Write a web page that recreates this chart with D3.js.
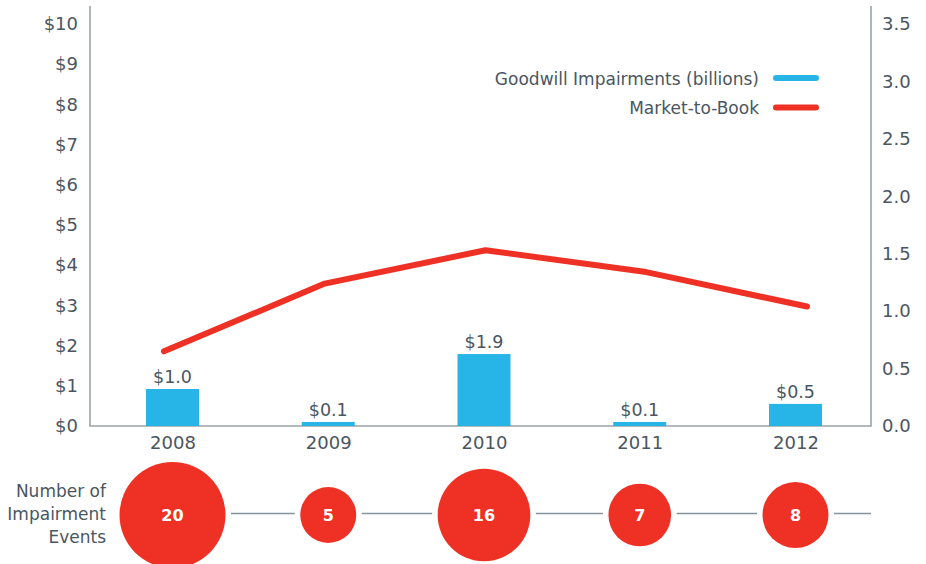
<!DOCTYPE html>
<html>
<head>
<meta charset="utf-8">
<script src="https://cdn.jsdelivr.net/npm/d3@7"></script>
<style>
  html, body { margin: 0; padding: 0; background: #fff; }
  svg { display: block; }
  text { font-family: "DejaVu Sans", sans-serif; fill: #4a5661; }
</style>
</head>
<body>
<svg id="chart" width="926" height="564"></svg>
<script>
// ---- data ----
const years = ["2008", "2009", "2010", "2011", "2012"];
const impairments = [0.92, 0.1, 1.79, 0.1, 0.55];            // $ billions (bar heights)
const impairmentLabels = ["$1.0", "$0.1", "$1.9", "$0.1", "$0.5"];
const marketToBook = [0.65, 1.24, 1.53, 1.34, 1.04];
const events = [20, 5, 16, 7, 8];
const leftTicks = [0, 1, 2, 3, 4, 5, 6, 7, 8, 9, 10];
const rightTicks = [0, 0.5, 1.0, 1.5, 2.0, 2.5, 3.0, 3.5];
const legendItems = ["Goodwill Impairments (billions)", "Market-to-Book"];
const rowLabel = ["Number of", "Impairment", "Events"];

// ---- styles ----
const BLUE = "#27b5e8", RED = "#ee3124", AXIS = "#9aa2a7", LINK = "#87929a";

const svg = d3.select("#chart");
const axL = 90, axR = 871, baseY = 426, topY = 24;

const yL = d3.scaleLinear().domain([0, 10]).range([baseY, topY]);
const yR = d3.scaleLinear().domain([0, 3.5]).range([baseY, topY]);
const xBar = d3.scalePoint().domain(years).range([172.5, 795.5]);
const xLine = d3.scalePoint().domain(years).range([164, 807]);
const rScale = d3.scaleLinear().domain(d3.extent(events)).range([28, 53]);

// axes lines
svg.append("path")
  .attr("d", `M${axL},${topY - 18}V${yL(0)}H${axR}V${topY - 18}`)
  .attr("fill", "none").attr("stroke", AXIS).attr("stroke-width", 1.6);

// left axis
const gL = svg.append("g").attr("transform", `translate(${axL},0)`)
  .call(d3.axisLeft(yL).tickValues(leftTicks).tickSize(0).tickPadding(12).tickFormat(d => "$" + d));
gL.select(".domain").remove();
gL.selectAll("text").attr("font-size", 18).attr("font-family", "DejaVu Sans").attr("fill", "#4a5661");

// right axis
const gR = svg.append("g").attr("transform", `translate(${axR},0)`)
  .call(d3.axisRight(yR).tickValues(rightTicks).tickSize(0).tickPadding(11).tickFormat(d3.format(".1f")));
gR.select(".domain").remove();
gR.selectAll("text").attr("font-size", 18).attr("font-family", "DejaVu Sans").attr("fill", "#4a5661");

// x axis labels
const gX = svg.append("g").attr("transform", `translate(0,${baseY})`)
  .call(d3.axisBottom(xBar).tickSize(0).tickPadding(10));
gX.select(".domain").remove();
gX.selectAll("text").attr("font-size", 18).attr("font-family", "DejaVu Sans").attr("fill", "#4a5661");

// bars
const barW = 53;
svg.append("g").selectAll("rect").data(years).join("rect")
  .attr("x", d => xBar(d) - barW / 2)
  .attr("width", barW)
  .attr("y", (d, i) => yL(impairments[i]))
  .attr("height", (d, i) => yL(0) - yL(impairments[i]))
  .attr("fill", BLUE);

svg.append("g").selectAll("text").data(years).join("text")
  .attr("x", d => xBar(d))
  .attr("y", (d, i) => yL(impairments[i]) - 6)
  .attr("text-anchor", "middle")
  .attr("font-size", 17.5)
  .text((d, i) => impairmentLabels[i]);

// line
const line = d3.line().x((d, i) => xLine(years[i])).y(d => yR(d));
svg.append("path").datum(marketToBook)
  .attr("d", line)
  .attr("fill", "none").attr("stroke", RED).attr("stroke-width", 6)
  .attr("stroke-linecap", "round").attr("stroke-linejoin", "round");

// legend
const legColors = [BLUE, RED];
const leg = svg.append("g").selectAll("g").data(legendItems).join("g")
  .attr("transform", (d, i) => `translate(0,${78 + i * 29.5})`);
leg.append("text").attr("x", 759).attr("y", 6.5).attr("text-anchor", "end")
  .attr("font-size", 17).text(d => d);
leg.append("line").attr("x1", 776).attr("x2", 816).attr("y1", 0).attr("y2", 0)
  .attr("stroke", (d, i) => legColors[i]).attr("stroke-width", 6).attr("stroke-linecap", "round");

// bubbles row
const cy = 515;
const gap = 5.5;
const linkG = svg.append("g");
years.forEach((y, i) => {
  const x1 = xBar(y) + rScale(events[i]) + gap;
  const x2 = i < years.length - 1 ? xBar(years[i + 1]) - rScale(events[i + 1]) - gap : axR;
  linkG.append("line").attr("x1", x1).attr("x2", x2).attr("y1", cy - 1.5).attr("y2", cy - 1.5)
    .attr("stroke", LINK).attr("stroke-width", 1.5);
});
svg.append("g").selectAll("circle").data(years).join("circle")
  .attr("cx", d => xBar(d)).attr("cy", cy)
  .attr("r", (d, i) => rScale(events[i]))
  .attr("fill", RED);
svg.append("g").selectAll("text").data(years).join("text")
  .attr("x", d => xBar(d)).attr("y", cy + 6)
  .attr("text-anchor", "middle").attr("font-size", 16).attr("font-weight", "bold")
  .style("fill", "#fff")
  .text((d, i) => events[i]);

// row label
svg.append("g").selectAll("text").data(rowLabel).join("text")
  .attr("x", 106).attr("y", (d, i) => 497 + i * 23)
  .attr("text-anchor", "end").attr("font-size", 17)
  .text(d => d);
</script>
</body>
</html>
